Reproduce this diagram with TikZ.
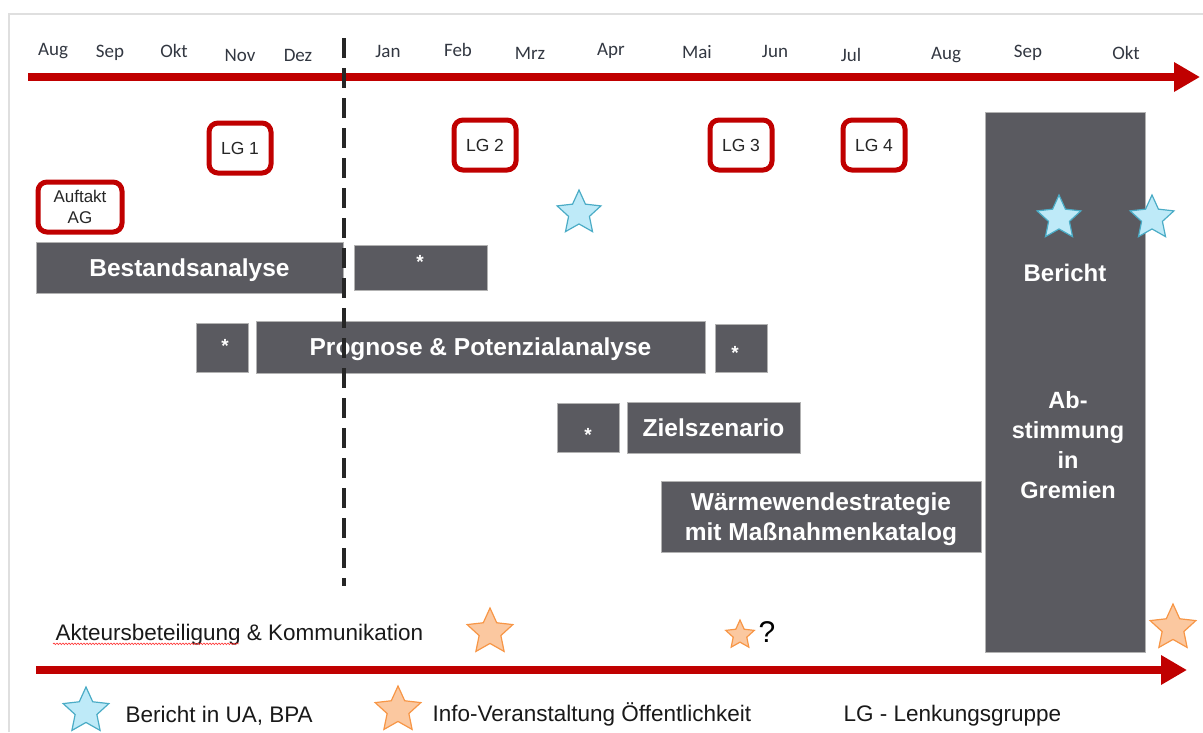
\documentclass[tikz,border=0pt]{standalone}
\usepackage{fontspec}
\setmainfont{Liberation Sans}
\newfontfamily\monthfont{Carlito}
\usetikzlibrary{positioning,shapes.geometric,arrows.meta,decorations.pathmorphing}

\definecolor{lgred}{RGB}{192,0,0}
\definecolor{bargrey}{RGB}{90,90,96}
\definecolor{monthgrey}{RGB}{50,55,65}
\definecolor{starblue}{RGB}{190,234,248}
\definecolor{starblueline}{RGB}{75,172,198}
\definecolor{starorange}{RGB}{251,200,160}
\definecolor{starorangeline}{RGB}{247,150,70}

\tikzset{
  monthlabel/.style={font=\monthfont\fontsize{19}{22}\selectfont, text=monthgrey},
  lgbox/.style={draw=lgred, line width=5pt, rounded corners=9pt, fill=white,
    minimum width=62pt, minimum height=50pt, inner sep=0pt, align=center,
    font=\fontsize{17.5}{19}\selectfont, text=black!85},
  taskbar/.style={fill=bargrey, draw=gray!60, line width=0.8pt, inner sep=0pt,
    text=white, align=center, text depth=0pt, font=\bfseries\fontsize{24.5}{30}\selectfont},
  asterisk/.style={text=white, inner sep=0pt, font=\bfseries\fontsize{19}{19}\selectfont},
  timeline/.style={draw=lgred, line width=8pt, -{Triangle[width=28pt,length=26pt]}},
  bluestar/.style={star, star points=5, star point ratio=2.1, inner sep=0pt,
    fill=starblue, draw=starblueline, line width=1.2pt, minimum size=#1},
  orangestar/.style={star, star points=5, star point ratio=2.1, inner sep=0pt,
    fill=starorange, draw=starorangeline, line width=1.2pt, minimum size=#1},
  legendtext/.style={anchor=west, font=\fontsize{22.5}{25}\selectfont, text=black!90}
}

\begin{document}
\begin{tikzpicture}[x=1pt, y=-1pt]
\useasboundingbox (0,0) rectangle (1203,732); % same size as the reference
\draw[gray!25, line width=1.5pt] (9,732) -- (9,14) -- (1203,14);

% months
\foreach \m/\x/\y in {Aug/53/51, Sep/110/53, Okt/174/51, Nov/240/55, Dez/298/55,
  Jan/388/51, Feb/458/50, Mrz/530/53, Apr/611/51, Mai/697/52, Jun/775/51,
  Jul/851/55, Aug/946/55, Sep/1028/53, Okt/1126/53}
  \node[monthlabel] at (\x,\y) {\m};

% time axes
\coordinate (axisstart) at (28,77);
\coordinate (axisend) at (1200,77);
\draw[timeline] (axisstart) -- (axisend);
\coordinate (commstart) at (36,670);
\coordinate (commend) at (1187,670);
\draw[timeline] (commstart) -- (commend);

% Lenkungsgruppe
\node[lgbox] (lg1) at (240,148) {LG 1};
\node[lgbox] (lg2) at (485,145) {LG 2};
\node[lgbox] (lg3) at (741,145) {LG 3};
\node[lgbox] (lg4) at (874,145) {LG 4};
\node[lgbox, minimum width=84pt, font=\fontsize{17}{21}\selectfont] (auftakt) at (80,207) {Auftakt\\AG};

% tasks
\node[taskbar, minimum width=307pt, minimum height=51pt] (bestand) at (189.5,267.5) {Bestandsanalyse};
\node[taskbar, minimum width=133pt, minimum height=45pt] (bestandplus) at (420.5,267.5) {};
\node[asterisk] at (420,262) {*};
\node[taskbar, minimum width=52pt, minimum height=49pt] (prognosevor) at (222,347.5) {};
\node[asterisk] at (225,346) {*};
\node[taskbar, minimum width=449pt, minimum height=52pt] (prognose) at (480.5,347) {Prognose \& Potenzialanalyse};
\node[taskbar, minimum width=52pt, minimum height=48pt] (prognosenach) at (741,348) {};
\node[asterisk] at (735,353) {*};
\node[taskbar, minimum width=62pt, minimum height=49pt] (zielvor) at (588,427.5) {};
\node[asterisk] at (588,435) {*};
\node[taskbar, minimum width=173pt, minimum height=51pt] (ziel) at (713.5,427.5) {Zielszenario};
\node[taskbar, minimum width=320pt, minimum height=71pt] (strategie) at (821,516.5) {W\"armewendestrategie\\mit Ma\ss{}nahmenkatalog};
\node[taskbar, minimum width=160pt, minimum height=540pt] (gremien) at (1065,382) {};
\node[text=white, font=\bfseries\fontsize{24}{30}\selectfont] (bericht) at (1065,273) {Bericht};
\node[text=white, align=center, font=\bfseries\fontsize{23.5}{30}\selectfont] (abstimmung) at (1068,445) {Ab-\\stimmung\\in\\Gremien};

% year change
\coordinate (yeartop) at (344,38);
\coordinate (yearbottom) at (344,586);
\draw[black!85, line width=4pt, dash pattern=on 20pt off 10pt] (yeartop) -- (yearbottom);

% stars
\node[bluestar=46pt] (berichtA) at (579,213) {};
\node[bluestar=46pt] (berichtB) at (1059,218) {};
\node[bluestar=46pt] (berichtC) at (1152,218) {};
\node[orangestar=48pt] (infoA) at (490,632) {};
\node[orangestar=30pt] (infoB) at (740,635) {};
\node[orangestar=48pt] (infoC) at (1173,628) {};
\node[font=\fontsize{30}{32}\selectfont] (frage) at (767,632) {?};

\node[legendtext] (akteure) at (52,635) {Akteursbeteiligung \& Kommunikation};
\draw[red!80, line width=0.6pt, decorate, decoration={snake, amplitude=0.8pt, segment length=3pt}]
  ([xshift=1pt, yshift=-3pt]akteure.base west) -- ++(186,0);

% legend
\node[bluestar=48pt] (legblue) at (86,711) {};
\node[legendtext] at (122,716) {Bericht in UA, BPA};
\node[orangestar=48pt] (legorange) at (398,710) {};
\node[legendtext] at (429,714) {Info-Veranstaltung \"Offentlichkeit};
\node[legendtext] at (840,716) {LG - Lenkungsgruppe};
\end{tikzpicture}
\end{document}
